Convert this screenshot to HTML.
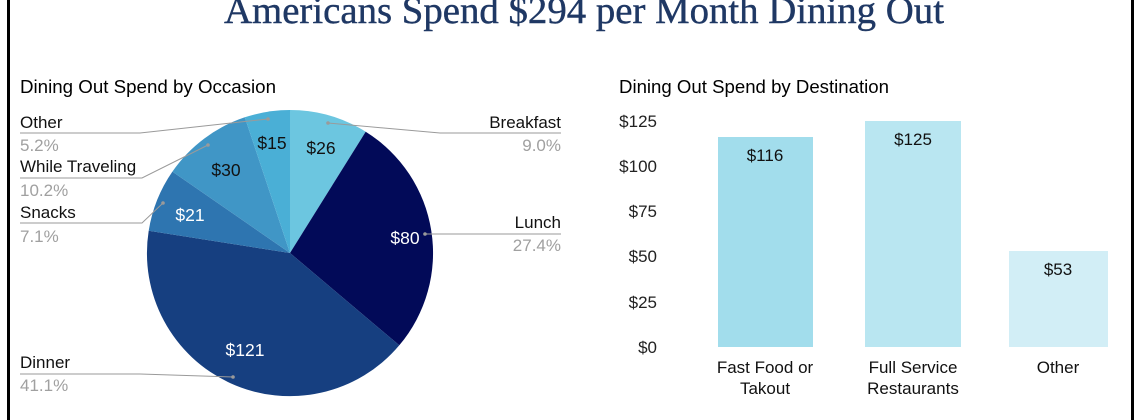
<!DOCTYPE html>
<html><head><meta charset="utf-8"><style>
html,body{margin:0;padding:0;background:#fff;}
svg{display:block;}
text{font-family:"Liberation Sans",Arial,sans-serif;}
</style></head><body>
<svg width="1140" height="420" viewBox="0 0 1140 420" xmlns="http://www.w3.org/2000/svg">
<rect x="0" y="0" width="1140" height="420" fill="#fff"/>
<rect x="7" y="0" width="3" height="420" fill="#000"/>
<rect x="1131" y="0" width="3" height="420" fill="#000"/>
<text x="584" y="23" text-anchor="middle" style="font-family:'Liberation Serif',serif" font-size="38" fill="#1F3864" stroke="#1F3864" stroke-width="0.4" textLength="720" lengthAdjust="spacingAndGlyphs">Americans Spend $294 per Month Dining Out</text>

<!-- Pie -->
<text x="20" y="93" font-size="18" fill="#000" textLength="256" lengthAdjust="spacingAndGlyphs">Dining Out Spend by Occasion</text>
<path d="M290,253 L290,110 A143,143 0 0 1 365.7,131.7 Z" fill="#6CC6E0"/>
<path d="M290,253 L365.7,131.7 A143,143 0 0 1 399.3,345.3 Z" fill="#020A58"/>
<path d="M290,253 L399.3,345.3 A143,143 0 0 1 148.7,230.8 Z" fill="#163F80"/>
<path d="M290,253 L148.7,230.8 A143,143 0 0 1 172.4,171.6 Z" fill="#2E75B0"/>
<path d="M290,253 L172.4,171.6 A143,143 0 0 1 244.8,117.3 Z" fill="#4096C6"/>
<path d="M290,253 L244.8,117.3 A143,143 0 0 1 290,110 Z" fill="#4AAFD6"/>

<g font-size="17.5" text-anchor="middle">
<text x="272" y="149" fill="#111">$15</text>
<text x="321" y="154" fill="#111">$26</text>
<text x="226" y="176" fill="#111">$30</text>
<text x="190" y="221" fill="#fff">$21</text>
<text x="405" y="244" fill="#fff">$80</text>
<text x="245" y="356" fill="#fff">$121</text>
</g>

<g stroke="#9a9a9a" stroke-width="1" fill="none">
<polyline points="20,133 140,133 268,119"/>
<polyline points="20,178 142,178 208,145"/>
<polyline points="20,223 142,223 163,203"/>
<polyline points="20,374 140,374 233,377"/>
<polyline points="328,123 440,133 561,133"/>
<polyline points="425,234 561,234"/>
</g>
<g fill="#9a9a9a">
<circle cx="268" cy="119" r="1.8"/><circle cx="208" cy="145" r="1.8"/><circle cx="163" cy="203" r="1.8"/>
<circle cx="233" cy="377" r="1.8"/><circle cx="328" cy="123" r="1.8"/><circle cx="425" cy="234" r="1.8"/>
</g>
<g font-size="17">
<text x="20" y="128" fill="#111">Other</text>
<text x="20" y="151" fill="#a0a0a0">5.2%</text>
<text x="20" y="172" fill="#111">While Traveling</text>
<text x="20" y="196" fill="#a0a0a0">10.2%</text>
<text x="20" y="218" fill="#111">Snacks</text>
<text x="20" y="242" fill="#a0a0a0">7.1%</text>
<text x="20" y="368" fill="#111">Dinner</text>
<text x="20" y="391" fill="#a0a0a0">41.1%</text>
<text x="561" y="128" text-anchor="end" fill="#111">Breakfast</text>
<text x="561" y="151" text-anchor="end" fill="#a0a0a0">9.0%</text>
<text x="561" y="228" text-anchor="end" fill="#111">Lunch</text>
<text x="561" y="251" text-anchor="end" fill="#a0a0a0">27.4%</text>
</g>

<!-- Bar chart -->
<text x="619" y="93" font-size="18" fill="#000" textLength="270" lengthAdjust="spacingAndGlyphs">Dining Out Spend by Destination</text>
<g font-size="17" fill="#222" text-anchor="end">
<text x="657" y="127">$125</text>
<text x="657" y="172">$100</text>
<text x="657" y="217">$75</text>
<text x="657" y="262">$50</text>
<text x="657" y="308">$25</text>
<text x="657" y="353">$0</text>
</g>
<rect x="718" y="137" width="95" height="210" fill="#A2DDEC"/>
<rect x="865" y="121" width="96" height="226" fill="#B9E6F1"/>
<rect x="1009" y="251" width="99" height="96" fill="#D2EEF6"/>
<g font-size="17" fill="#111" text-anchor="middle">
<text x="765" y="161">$116</text>
<text x="913" y="145">$125</text>
<text x="1058" y="275">$53</text>
<text x="765" y="373">Fast Food or</text>
<text x="765" y="394">Takout</text>
<text x="913" y="373">Full Service</text>
<text x="913" y="394">Restaurants</text>
<text x="1058" y="373">Other</text>
</g>
</svg>
</body></html>
